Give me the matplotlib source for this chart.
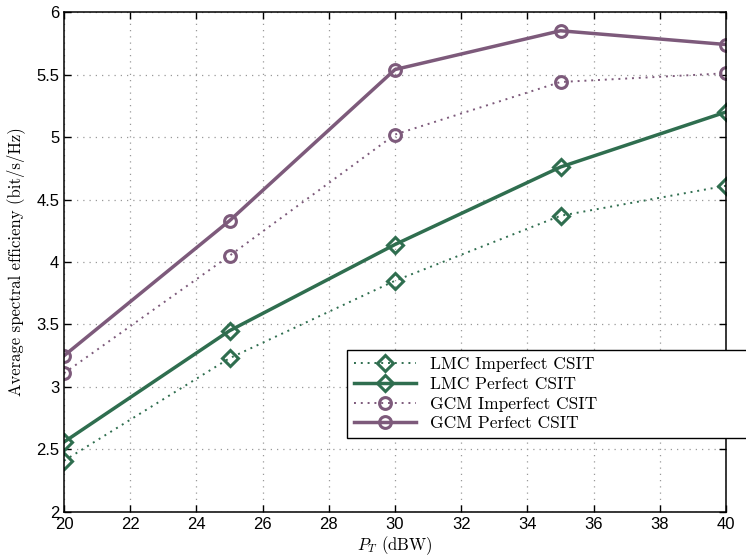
import matplotlib
matplotlib.use("Agg")
import matplotlib.pyplot as plt

# data
pt_dbw = [20, 25, 30, 35, 40]
lmc_imperfect = [2.41, 3.23, 3.85, 4.37, 4.61]
lmc_perfect = [2.56, 3.45, 4.14, 4.76, 5.20]
gcm_imperfect = [3.11, 4.05, 5.02, 5.44, 5.51]
gcm_perfect = [3.25, 4.33, 5.54, 5.85, 5.74]

green = '#2f6e4f'
purple = '#7d5a7b'

plt.rcParams['mathtext.fontset'] = 'cm'
serif = 'cmr10'

fig = plt.figure(figsize=(7.46, 5.59), dpi=100)
ax = fig.add_axes([0.0858, 0.0841, 0.8874, 0.8944])

ax.plot(pt_dbw, lmc_imperfect, linestyle=(0, (1, 2.5)), color=green, linewidth=1.4,
        marker='D', markersize=8, markerfacecolor='none', markeredgewidth=2.2,
        label='LMC Imperfect CSIT')
ax.plot(pt_dbw, lmc_perfect, linestyle='-', color=green, linewidth=2.5,
        marker='D', markersize=8, markerfacecolor='none', markeredgewidth=2.2,
        label='LMC Perfect CSIT')
ax.plot(pt_dbw, gcm_imperfect, linestyle=(0, (1, 2.5)), color=purple, linewidth=1.4,
        marker='o', markersize=8.5, markerfacecolor='none', markeredgewidth=2.2,
        label='GCM Imperfect CSIT')
ax.plot(pt_dbw, gcm_perfect, linestyle='-', color=purple, linewidth=2.5,
        marker='o', markersize=8.5, markerfacecolor='none', markeredgewidth=2.2,
        label='GCM Perfect CSIT')

ax.set_xlim(20, 40)
ax.set_ylim(2, 6)
ax.set_xticks(range(20, 41, 2))
ax.set_yticks([2, 2.5, 3, 3.5, 4, 4.5, 5, 5.5, 6])
ax.set_yticklabels(['2', '2.5', '3', '3.5', '4', '4.5', '5', '5.5', '6'])
ax.tick_params(direction='in', top=True, right=True, length=5, width=1,
               labelsize=12)
for lbl in ax.get_xticklabels() + ax.get_yticklabels():
    lbl.set_family('Liberation Sans')
ax.grid(True, linestyle=(0, (1, 4)), color='#999999', linewidth=0.9)
for s in ax.spines.values():
    s.set_linewidth(1.1)

ax.set_xlabel('$P_T$ (dBW)', fontsize=12, family=serif, labelpad=2)
ax.set_ylabel('Average spectral efficieny (bit/s/Hz)', fontsize=12,
              family=serif, labelpad=8)

leg = ax.legend(loc='upper left', bbox_to_anchor=(0.4275, 0.132, 0.62, 0.192),
                mode='expand', fancybox=False, edgecolor='black',
                prop={'family': serif, 'size': 12.5}, handlelength=3.6,
                borderaxespad=0, labelspacing=0.25, framealpha=1)
leg.get_frame().set_linewidth(1.0)

fig.savefig('out.png', dpi=100)
